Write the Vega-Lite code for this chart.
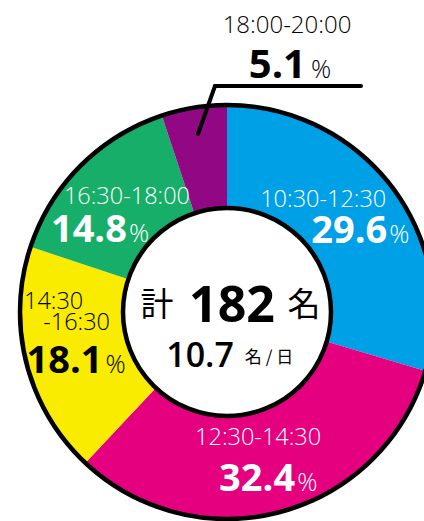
{
  "$schema": "https://vega.github.io/schema/vega-lite/v6.json",
  "width": 424,
  "height": 521,
  "autosize": "none",
  "padding": 0,
  "background": "white",
  "config": {"view": {"stroke": null}},
  "data": {"values": [
    {"slot": "10:30-12:30", "line1": "", "line2": "10:30-12:30", "pct": 29.6, "order": 1},
    {"slot": "12:30-14:30", "line1": "", "line2": "12:30-14:30", "pct": 32.4, "order": 2},
    {"slot": "14:30-16:30", "line1": "14:30", "line2": "-16:30", "pct": 18.1, "order": 3},
    {"slot": "16:30-18:00", "line1": "", "line2": "16:30-18:00", "pct": 14.8, "order": 4},
    {"slot": "18:00-20:00", "line1": "", "line2": "18:00-20:00", "pct": 5.1, "order": 5}
  ]},
  "layer": [
    {
      "mark": {"type": "arc", "outerRadius": 207, "innerRadius": 0},
      "encoding": {
        "x": {"datum": 0, "type": "quantitative", "scale": {"domain": [-227, 197]}, "axis": null},
        "y": {"datum": 0, "type": "quantitative", "scale": {"domain": [-209, 312]}, "axis": null},
        "theta": {"field": "pct", "type": "quantitative", "stack": true},
        "order": {"field": "order", "type": "quantitative"},
        "color": {"field": "slot", "type": "nominal", "legend": null,
          "scale": {"domain": ["10:30-12:30", "12:30-14:30", "14:30-16:30", "16:30-18:00", "18:00-20:00"],
                    "range": ["#00A0E6", "#E4007F", "#F9EC00", "#17AE6A", "#920783"]}}
      }
    },
    {
      "data": {"values": [{}]},
      "mark": {"type": "arc", "theta": 0, "theta2": 6.2832, "outerRadius": 207, "fill": "white", "fillOpacity": 0, "stroke": "black", "strokeWidth": 4.5},
      "encoding": {
        "x": {"datum": 0, "type": "quantitative", "scale": {"domain": [-227, 197]}, "axis": null},
        "y": {"datum": 0, "type": "quantitative", "scale": {"domain": [-209, 312]}, "axis": null}
      }
    },
    {
      "data": {"values": [{}]},
      "mark": {"type": "arc", "theta": 0, "theta2": 6.2832, "outerRadius": 104, "fill": "white", "stroke": "black", "strokeWidth": 4.5},
      "encoding": {
        "x": {"datum": 0, "type": "quantitative", "scale": {"domain": [-227, 197]}, "axis": null},
        "y": {"datum": 0, "type": "quantitative", "scale": {"domain": [-209, 312]}, "axis": null}
      }
    },
    {
      "mark": {"type": "text", "radius": 150, "font": "Open Sans", "fontWeight": 300, "fontSize": 23.5, "align": "center", "baseline": "alphabetic", "dx": -24, "dy": -15, "color": "white"},
      "encoding": {
        "x": {"datum": 0, "type": "quantitative", "scale": {"domain": [-227, 197]}, "axis": null},
        "y": {"datum": 0, "type": "quantitative", "scale": {"domain": [-209, 312]}, "axis": null},
        "theta": {"field": "pct", "type": "quantitative", "stack": true},
        "order": {"field": "order", "type": "quantitative"},
        "text": {"condition": {"test": "datum.order != 1", "value": ""}, "field": "line2"}
      }
    },
    {
      "mark": {"type": "text", "radius": 150, "font": "Open Sans", "fontSize": 38, "fontWeight": "bold", "align": "right", "baseline": "alphabetic", "dx": 40, "dy": 21, "color": "white"},
      "encoding": {
        "x": {"datum": 0, "type": "quantitative", "scale": {"domain": [-227, 197]}, "axis": null},
        "y": {"datum": 0, "type": "quantitative", "scale": {"domain": [-209, 312]}, "axis": null},
        "theta": {"field": "pct", "type": "quantitative", "stack": true},
        "order": {"field": "order", "type": "quantitative"},
        "text": {"condition": {"test": "datum.order != 1", "value": ""}, "field": "pct", "type": "quantitative", "format": ".1f"}
      }
    },
    {
      "mark": {"type": "text", "radius": 150, "font": "Open Sans", "fontWeight": 300, "fontSize": 25, "align": "left", "baseline": "alphabetic", "dx": 42, "dy": 21, "color": "white"},
      "encoding": {
        "x": {"datum": 0, "type": "quantitative", "scale": {"domain": [-227, 197]}, "axis": null},
        "y": {"datum": 0, "type": "quantitative", "scale": {"domain": [-209, 312]}, "axis": null},
        "theta": {"field": "pct", "type": "quantitative", "stack": true},
        "order": {"field": "order", "type": "quantitative"},
        "text": {"condition": {"test": "datum.order != 1", "value": ""}, "value": "%"}
      }
    },
    {
      "mark": {"type": "text", "radius": 150, "font": "Open Sans", "fontWeight": 300, "fontSize": 23.5, "align": "center", "baseline": "alphabetic", "dx": -8, "dy": -12, "color": "white"},
      "encoding": {
        "x": {"datum": 0, "type": "quantitative", "scale": {"domain": [-227, 197]}, "axis": null},
        "y": {"datum": 0, "type": "quantitative", "scale": {"domain": [-209, 312]}, "axis": null},
        "theta": {"field": "pct", "type": "quantitative", "stack": true},
        "order": {"field": "order", "type": "quantitative"},
        "text": {"condition": {"test": "datum.order != 2", "value": ""}, "field": "line2"}
      }
    },
    {
      "mark": {"type": "text", "radius": 150, "font": "Open Sans", "fontSize": 38, "fontWeight": "bold", "align": "right", "baseline": "alphabetic", "dx": 29, "dy": 34, "color": "white"},
      "encoding": {
        "x": {"datum": 0, "type": "quantitative", "scale": {"domain": [-227, 197]}, "axis": null},
        "y": {"datum": 0, "type": "quantitative", "scale": {"domain": [-209, 312]}, "axis": null},
        "theta": {"field": "pct", "type": "quantitative", "stack": true},
        "order": {"field": "order", "type": "quantitative"},
        "text": {"condition": {"test": "datum.order != 2", "value": ""}, "field": "pct", "type": "quantitative", "format": ".1f"}
      }
    },
    {
      "mark": {"type": "text", "radius": 150, "font": "Open Sans", "fontWeight": 300, "fontSize": 25, "align": "left", "baseline": "alphabetic", "dx": 31, "dy": 34, "color": "white"},
      "encoding": {
        "x": {"datum": 0, "type": "quantitative", "scale": {"domain": [-227, 197]}, "axis": null},
        "y": {"datum": 0, "type": "quantitative", "scale": {"domain": [-209, 312]}, "axis": null},
        "theta": {"field": "pct", "type": "quantitative", "stack": true},
        "order": {"field": "order", "type": "quantitative"},
        "text": {"condition": {"test": "datum.order != 2", "value": ""}, "value": "%"}
      }
    },
    {
      "mark": {"type": "text", "radius": 150, "font": "Open Sans", "fontWeight": 300, "fontSize": 23.5, "align": "center", "baseline": "alphabetic", "dx": -28, "dy": -40, "color": "black"},
      "encoding": {
        "x": {"datum": 0, "type": "quantitative", "scale": {"domain": [-227, 197]}, "axis": null},
        "y": {"datum": 0, "type": "quantitative", "scale": {"domain": [-209, 312]}, "axis": null},
        "theta": {"field": "pct", "type": "quantitative", "stack": true},
        "order": {"field": "order", "type": "quantitative"},
        "text": {"condition": {"test": "datum.order != 3", "value": ""}, "field": "line1"}
      }
    },
    {
      "mark": {"type": "text", "radius": 150, "font": "Open Sans", "fontWeight": 300, "fontSize": 23.5, "align": "center", "baseline": "alphabetic", "dx": -5, "dy": -19, "color": "black"},
      "encoding": {
        "x": {"datum": 0, "type": "quantitative", "scale": {"domain": [-227, 197]}, "axis": null},
        "y": {"datum": 0, "type": "quantitative", "scale": {"domain": [-209, 312]}, "axis": null},
        "theta": {"field": "pct", "type": "quantitative", "stack": true},
        "order": {"field": "order", "type": "quantitative"},
        "text": {"condition": {"test": "datum.order != 3", "value": ""}, "field": "line2"}
      }
    },
    {
      "mark": {"type": "text", "radius": 150, "font": "Open Sans", "fontSize": 38, "fontWeight": "bold", "align": "right", "baseline": "alphabetic", "dx": 21, "dy": 24, "color": "black"},
      "encoding": {
        "x": {"datum": 0, "type": "quantitative", "scale": {"domain": [-227, 197]}, "axis": null},
        "y": {"datum": 0, "type": "quantitative", "scale": {"domain": [-209, 312]}, "axis": null},
        "theta": {"field": "pct", "type": "quantitative", "stack": true},
        "order": {"field": "order", "type": "quantitative"},
        "text": {"condition": {"test": "datum.order != 3", "value": ""}, "field": "pct", "type": "quantitative", "format": ".1f"}
      }
    },
    {
      "mark": {"type": "text", "radius": 150, "font": "Open Sans", "fontWeight": 300, "fontSize": 25, "align": "left", "baseline": "alphabetic", "dx": 24, "dy": 24, "color": "black"},
      "encoding": {
        "x": {"datum": 0, "type": "quantitative", "scale": {"domain": [-227, 197]}, "axis": null},
        "y": {"datum": 0, "type": "quantitative", "scale": {"domain": [-209, 312]}, "axis": null},
        "theta": {"field": "pct", "type": "quantitative", "stack": true},
        "order": {"field": "order", "type": "quantitative"},
        "text": {"condition": {"test": "datum.order != 3", "value": ""}, "value": "%"}
      }
    },
    {
      "mark": {"type": "text", "radius": 150, "font": "Open Sans", "fontWeight": 300, "fontSize": 23.5, "align": "center", "baseline": "alphabetic", "dx": 6, "dy": -2, "color": "white"},
      "encoding": {
        "x": {"datum": 0, "type": "quantitative", "scale": {"domain": [-227, 197]}, "axis": null},
        "y": {"datum": 0, "type": "quantitative", "scale": {"domain": [-209, 312]}, "axis": null},
        "theta": {"field": "pct", "type": "quantitative", "stack": true},
        "order": {"field": "order", "type": "quantitative"},
        "text": {"condition": {"test": "datum.order != 4", "value": ""}, "field": "line2"}
      }
    },
    {
      "mark": {"type": "text", "radius": 150, "font": "Open Sans", "fontSize": 38, "fontWeight": "bold", "align": "right", "baseline": "alphabetic", "dx": 6, "dy": 36, "color": "white"},
      "encoding": {
        "x": {"datum": 0, "type": "quantitative", "scale": {"domain": [-227, 197]}, "axis": null},
        "y": {"datum": 0, "type": "quantitative", "scale": {"domain": [-209, 312]}, "axis": null},
        "theta": {"field": "pct", "type": "quantitative", "stack": true},
        "order": {"field": "order", "type": "quantitative"},
        "text": {"condition": {"test": "datum.order != 4", "value": ""}, "field": "pct", "type": "quantitative", "format": ".1f"}
      }
    },
    {
      "mark": {"type": "text", "radius": 150, "font": "Open Sans", "fontWeight": 300, "fontSize": 25, "align": "left", "baseline": "alphabetic", "dx": 8, "dy": 36, "color": "white"},
      "encoding": {
        "x": {"datum": 0, "type": "quantitative", "scale": {"domain": [-227, 197]}, "axis": null},
        "y": {"datum": 0, "type": "quantitative", "scale": {"domain": [-209, 312]}, "axis": null},
        "theta": {"field": "pct", "type": "quantitative", "stack": true},
        "order": {"field": "order", "type": "quantitative"},
        "text": {"condition": {"test": "datum.order != 4", "value": ""}, "value": "%"}
      }
    },
    {
      "data": {"values": [
        {"lx": -29, "ly": 178, "lx2": -12, "ly2": 226},
        {"lx": -12, "ly": 226, "lx2": 134, "ly2": 226}
      ]},
      "mark": {"type": "rule", "color": "black", "strokeWidth": 4, "strokeCap": "round"},
      "encoding": {
        "x": {"field": "lx", "type": "quantitative", "scale": {"domain": [-227, 197]}, "axis": null},
        "y": {"field": "ly", "type": "quantitative", "scale": {"domain": [-209, 312]}, "axis": null},
        "x2": {"field": "lx2"},
        "y2": {"field": "ly2"}
      }
    },
    {
      "transform": [{"filter": "datum.order == 5"}],
      "mark": {"type": "text", "font": "Open Sans", "fontWeight": 300, "fontSize": 24, "align": "center", "baseline": "alphabetic", "color": "black"},
      "encoding": {
        "x": {"datum": 60, "type": "quantitative", "scale": {"domain": [-227, 197]}, "axis": null},
        "y": {"datum": 279, "type": "quantitative", "scale": {"domain": [-209, 312]}, "axis": null},
        "text": {"field": "line2"}
      }
    },
    {
      "transform": [{"filter": "datum.order == 5"}],
      "mark": {"type": "text", "font": "Open Sans", "fontSize": 40, "fontWeight": "bold", "align": "right", "baseline": "alphabetic", "color": "black"},
      "encoding": {
        "x": {"datum": 79, "type": "quantitative", "scale": {"domain": [-227, 197]}, "axis": null},
        "y": {"datum": 234, "type": "quantitative", "scale": {"domain": [-209, 312]}, "axis": null},
        "text": {"field": "pct", "type": "quantitative", "format": ".1f"}
      }
    },
    {
      "transform": [{"filter": "datum.order == 5"}],
      "mark": {"type": "text", "font": "Open Sans", "fontWeight": 300, "fontSize": 25, "align": "left", "baseline": "alphabetic", "color": "black"},
      "encoding": {
        "x": {"datum": 84, "type": "quantitative", "scale": {"domain": [-227, 197]}, "axis": null},
        "y": {"datum": 234, "type": "quantitative", "scale": {"domain": [-209, 312]}, "axis": null},
        "text": {"value": "%"}
      }
    },
    {
      "data": {"values": [{}]},
      "mark": {"type": "text", "font": "Noto Sans CJK JP", "fontSize": 33, "align": "center", "baseline": "middle", "dx": -70, "dy": -6, "color": "black"},
      "encoding": {
        "x": {"datum": 0, "type": "quantitative", "scale": {"domain": [-227, 197]}, "axis": null},
        "y": {"datum": 0, "type": "quantitative", "scale": {"domain": [-209, 312]}, "axis": null},
        "text": {"value": "計"}
      }
    },
    {
      "data": {"values": [{}]},
      "mark": {"type": "text", "font": "Open Sans", "fontSize": 50, "fontWeight": "bold", "align": "center", "baseline": "alphabetic", "dx": 5, "dy": 10, "color": "black"},
      "encoding": {
        "x": {"datum": 0, "type": "quantitative", "scale": {"domain": [-227, 197]}, "axis": null},
        "y": {"datum": 0, "type": "quantitative", "scale": {"domain": [-209, 312]}, "axis": null},
        "text": {"value": "182"}
      }
    },
    {
      "data": {"values": [{}]},
      "mark": {"type": "text", "font": "Noto Sans CJK JP", "fontSize": 33, "align": "center", "baseline": "middle", "dx": 77, "dy": -6, "color": "black"},
      "encoding": {
        "x": {"datum": 0, "type": "quantitative", "scale": {"domain": [-227, 197]}, "axis": null},
        "y": {"datum": 0, "type": "quantitative", "scale": {"domain": [-209, 312]}, "axis": null},
        "text": {"value": "名"}
      }
    },
    {
      "data": {"values": [{}]},
      "mark": {"type": "text", "font": "Open Sans", "fontSize": 34, "fontWeight": 600, "align": "center", "baseline": "alphabetic", "dx": -27, "dy": 55, "color": "black"},
      "encoding": {
        "x": {"datum": 0, "type": "quantitative", "scale": {"domain": [-227, 197]}, "axis": null},
        "y": {"datum": 0, "type": "quantitative", "scale": {"domain": [-209, 312]}, "axis": null},
        "text": {"value": "10.7"}
      }
    },
    {
      "data": {"values": [{}]},
      "mark": {"type": "text", "font": "Noto Sans CJK JP", "fontSize": 17, "align": "center", "baseline": "alphabetic", "dx": 42, "dy": 51, "color": "black"},
      "encoding": {
        "x": {"datum": 0, "type": "quantitative", "scale": {"domain": [-227, 197]}, "axis": null},
        "y": {"datum": 0, "type": "quantitative", "scale": {"domain": [-209, 312]}, "axis": null},
        "text": {"value": "名 / 日"}
      }
    }
  ]
}
